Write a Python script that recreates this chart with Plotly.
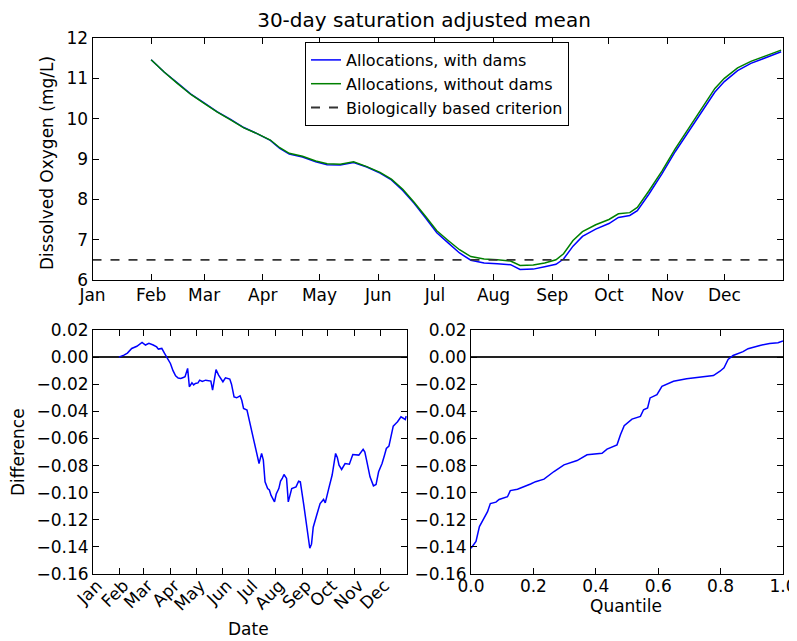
import pandas as pd
import plotly.graph_objects as go

YEAR = "2001-"
month_labels = ["Jan", "Feb", "Mar", "Apr", "May", "Jun",
                "Jul", "Aug", "Sep", "Oct", "Nov", "Dec"]
month_starts = [YEAR + f"{m:02d}-01" for m in range(1, 13)]
year_range = ["2001-01-01", "2002-01-01"]

# 30-day saturation adjusted mean DO (mg/L)
do_dates = ["02-01", "02-08", "02-15", "02-22", "03-01", "03-08", "03-15", "03-22", "03-29",
            "04-05", "04-10", "04-15", "04-22", "04-29", "05-05", "05-12", "05-19", "05-26",
            "06-02", "06-08", "06-14", "06-20", "06-26", "07-02", "07-08", "07-14", "07-20",
            "07-27", "08-03", "08-10", "08-15", "08-22", "08-28", "09-03", "09-07", "09-12",
            "09-17", "09-24", "10-01", "10-06", "10-12", "10-16", "10-22", "10-29", "11-05",
            "11-12", "11-19", "11-26", "12-01", "12-08", "12-15", "12-22", "12-31"]
without_dams = [11.46, 11.15, 10.87, 10.60, 10.38, 10.16, 9.97, 9.77, 9.63,
                9.47, 9.28, 9.14, 9.07, 8.95, 8.88, 8.87, 8.93, 8.81,
                8.67, 8.50, 8.25, 7.93, 7.58, 7.22, 6.98, 6.75, 6.58,
                6.52, 6.50, 6.47, 6.36, 6.37, 6.42, 6.50, 6.65, 6.98,
                7.20, 7.37, 7.50, 7.64, 7.67, 7.80, 8.20, 8.70, 9.25,
                9.75, 10.25, 10.75, 11.00, 11.26, 11.42, 11.55, 11.70]
with_dams = [11.46, 11.15, 10.88, 10.61, 10.39, 10.17, 9.98, 9.78, 9.63,
             9.46, 9.26, 9.12, 9.05, 8.93, 8.86, 8.85, 8.91, 8.80,
             8.65, 8.48, 8.22, 7.90, 7.54, 7.17, 6.92, 6.67, 6.49,
             6.42, 6.40, 6.38, 6.26, 6.27, 6.33, 6.39, 6.52, 6.84,
             7.08, 7.26, 7.40, 7.55, 7.60, 7.72, 8.12, 8.63, 9.18,
             9.68, 10.16, 10.66, 10.92, 11.19, 11.37, 11.50, 11.66]
criterion = 6.5

# difference (with dams - without dams)
diff_dates = ["01-31", "02-03", "02-06", "02-10", "02-15", "02-21", "02-27", "03-03", "03-07",
              "03-12", "03-16", "03-18", "03-22", "03-25", "03-28", "04-01", "04-04", "04-07",
              "04-10", "04-13", "04-16", "04-18", "04-21", "04-23", "04-26", "04-28", "04-30",
              "05-03", "05-05", "05-08", "05-12", "05-15", "05-18", "05-20", "05-24", "05-27",
              "05-30", "06-01", "06-04", "06-09", "06-11", "06-14", "06-17", "06-21", "06-23",
              "06-25", "06-29", "07-02", "07-05", "07-09", "07-11", "07-13", "07-16", "07-18",
              "07-20", "07-23", "07-25", "07-27", "07-31", "08-02", "08-05", "08-07", "08-09",
              "08-11", "08-14", "08-16", "08-20", "08-23", "08-25", "08-28", "08-30", "09-03",
              "09-07", "09-10", "09-12", "09-14", "09-18", "09-22", "09-26", "09-28", "10-02",
              "10-06", "10-10", "10-12", "10-14", "10-17", "10-21", "10-24", "10-26", "10-30",
              "11-03", "11-06", "11-11", "11-13", "11-15", "11-19", "11-23", "11-26", "11-29",
              "12-03", "12-06", "12-08", "12-11", "12-13", "12-16", "12-19", "12-21", "12-25",
              "12-28", "12-30", "12-31"]
diff_values = [0.0, 0.0005, 0.0015, 0.003, 0.0064, 0.008, 0.0108, 0.0089, 0.0101,
               0.0089, 0.0075, 0.0059, 0.0064, 0.003, -0.0005, -0.0047, -0.010, -0.0138,
               -0.0155, -0.0157, -0.015, -0.0145, -0.0083, -0.0219, -0.019, -0.0205, -0.0194,
               -0.019, -0.017, -0.018, -0.017, -0.0175, -0.0177, -0.0243, -0.0092, -0.0133,
               -0.016, -0.0182, -0.0153, -0.0162, -0.020, -0.0293, -0.030, -0.0285, -0.032,
               -0.0379, -0.039, -0.047, -0.0563, -0.0674, -0.073, -0.0785, -0.071, -0.076,
               -0.092, -0.097, -0.098, -0.102, -0.1068, -0.101, -0.097, -0.0915, -0.0895,
               -0.0866, -0.0895, -0.1068, -0.097, -0.0965, -0.0957, -0.0915, -0.092, -0.109,
               -0.129, -0.141, -0.138, -0.1255, -0.1166, -0.108, -0.105, -0.1075, -0.097,
               -0.087, -0.0711, -0.074, -0.0797, -0.0829, -0.0785, -0.0785, -0.079, -0.0718,
               -0.0718, -0.0723, -0.068, -0.070, -0.076, -0.0883, -0.095, -0.094, -0.0846,
               -0.0785, -0.072, -0.0674, -0.0657, -0.060, -0.0509, -0.049, -0.0477, -0.044,
               -0.045, -0.046, -0.0435]

# sorted difference against quantile
quantiles = [0.0, 0.016, 0.027, 0.043, 0.053, 0.062, 0.080, 0.090, 0.117, 0.126, 0.149,
             0.191, 0.207, 0.234, 0.266, 0.298, 0.340, 0.372, 0.420, 0.436, 0.468, 0.479,
             0.491, 0.516, 0.543, 0.553, 0.566, 0.574, 0.596, 0.612, 0.649, 0.691, 0.734,
             0.777, 0.798, 0.811, 0.824, 0.840, 0.872, 0.888, 0.926, 0.957, 0.984, 1.0]
quantile_diff = [-0.141, -0.136, -0.125, -0.118, -0.114, -0.108, -0.107, -0.105, -0.103,
                 -0.0985, -0.0975, -0.0936, -0.0919, -0.090, -0.0844, -0.0795, -0.0763,
                 -0.0721, -0.0709, -0.0679, -0.0647, -0.0573, -0.0506, -0.0457, -0.0437,
                 -0.0388, -0.0375, -0.0301, -0.0277, -0.0215, -0.0178, -0.0160, -0.0146,
                 -0.0136, -0.0104, -0.0079, -0.0017, 0.0012, 0.0040, 0.0062, 0.0086,
                 0.0101, 0.0106, 0.0119]

do_x = pd.to_datetime([YEAR + d for d in do_dates])
diff_x = pd.to_datetime([YEAR + d for d in diff_dates])

FONT = "DejaVu Sans"
OFF = 8  # page body margin
W, H = 797 - OFF, 641 - OFF

fig = go.Figure()
fig.add_trace(go.Scatter(x=do_x, y=with_dams, mode="lines", name="Allocations, with dams",
                         line=dict(color="#0000ff", width=1.5), xaxis="x", yaxis="y"))
fig.add_trace(go.Scatter(x=do_x, y=without_dams, mode="lines", name="Allocations, without dams",
                         line=dict(color="#008000", width=1.5), xaxis="x", yaxis="y"))
fig.add_trace(go.Scatter(x=year_range, y=[criterion, criterion], mode="lines",
                         name="Biologically based criterion",
                         line=dict(color="#333333", width=1.8, dash="dash"), xaxis="x", yaxis="y"))
fig.add_trace(go.Scatter(x=diff_x, y=diff_values, mode="lines", showlegend=False,
                         line=dict(color="#0000ff", width=1.5), xaxis="x2", yaxis="y2"))
fig.add_trace(go.Scatter(x=quantiles, y=quantile_diff, mode="lines", showlegend=False,
                         line=dict(color="#0000ff", width=1.5), xaxis="x3", yaxis="y3"))

axis = dict(showline=True, linecolor="black", linewidth=1, mirror="allticks",
            ticks="inside", ticklen=6, tickcolor="black", showgrid=False, zeroline=False,
            automargin=False, tickfont=dict(family=FONT, size=17, color="black"))

def px_x(p):
    return (p - OFF) / W

def px_y(p):
    return 1 - (p - OFF) / H

top_dom = [px_y(280), px_y(38)]
bot_dom = [px_y(574), px_y(330)]
diff_axis = dict(axis, range=[-0.16, 0.02], dtick=0.02, tickformat=".2f",
                 zeroline=True, zerolinecolor="#222222", zerolinewidth=1.6)

fig.update_layout(
    width=W, height=H,
    margin=dict(l=0, r=0, t=0, b=0, autoexpand=False),
    paper_bgcolor="white", plot_bgcolor="white",
    font=dict(family=FONT, size=17, color="black"),
    title=dict(text="30-day saturation adjusted mean", x=px_x(424), y=px_y(20),
               xanchor="center", yanchor="middle", font=dict(size=20)),
    xaxis=dict(axis, type="date", range=year_range, tickvals=month_starts,
               ticktext=month_labels, domain=[px_x(92.5), px_x(783)], anchor="y"),
    yaxis=dict(axis, range=[6, 12], dtick=1, domain=top_dom, anchor="x"),
    xaxis2=dict(axis, type="date", range=year_range, tickvals=month_starts,
                ticktext=month_labels, tickangle=-45, ticklabelshift=4,
                ticklabelstandoff=-6, domain=[px_x(93), px_x(407)], anchor="y2"),
    yaxis2=dict(diff_axis, domain=bot_dom, anchor="x2"),
    xaxis3=dict(axis, range=[0, 1], dtick=0.2, tickformat=".1f", ticklabelstandoff=-3,
                domain=[px_x(471), px_x(783)], anchor="y3"),
    yaxis3=dict(diff_axis, domain=bot_dom, anchor="x3"),
    legend=dict(x=px_x(305), y=px_y(42), xanchor="left", yanchor="top",
                bgcolor="white", bordercolor="black", borderwidth=1,
                font=dict(size=16)),
    showlegend=True,
)

labels = [
    ("Dissolved Oxygen (mg/L)", 47, 163, -90),
    ("Difference", 18, 452, -90),
    ("Date", 248, 629, 0),
    ("Quantile", 626, 606, 0),
]
for text, x, y, ang in labels:
    fig.add_annotation(text=text, x=px_x(x), y=px_y(y), xref="paper", yref="paper",
                       showarrow=False, textangle=ang, xanchor="center", yanchor="middle",
                       font=dict(size=17))

fig.write_html("out.html")
